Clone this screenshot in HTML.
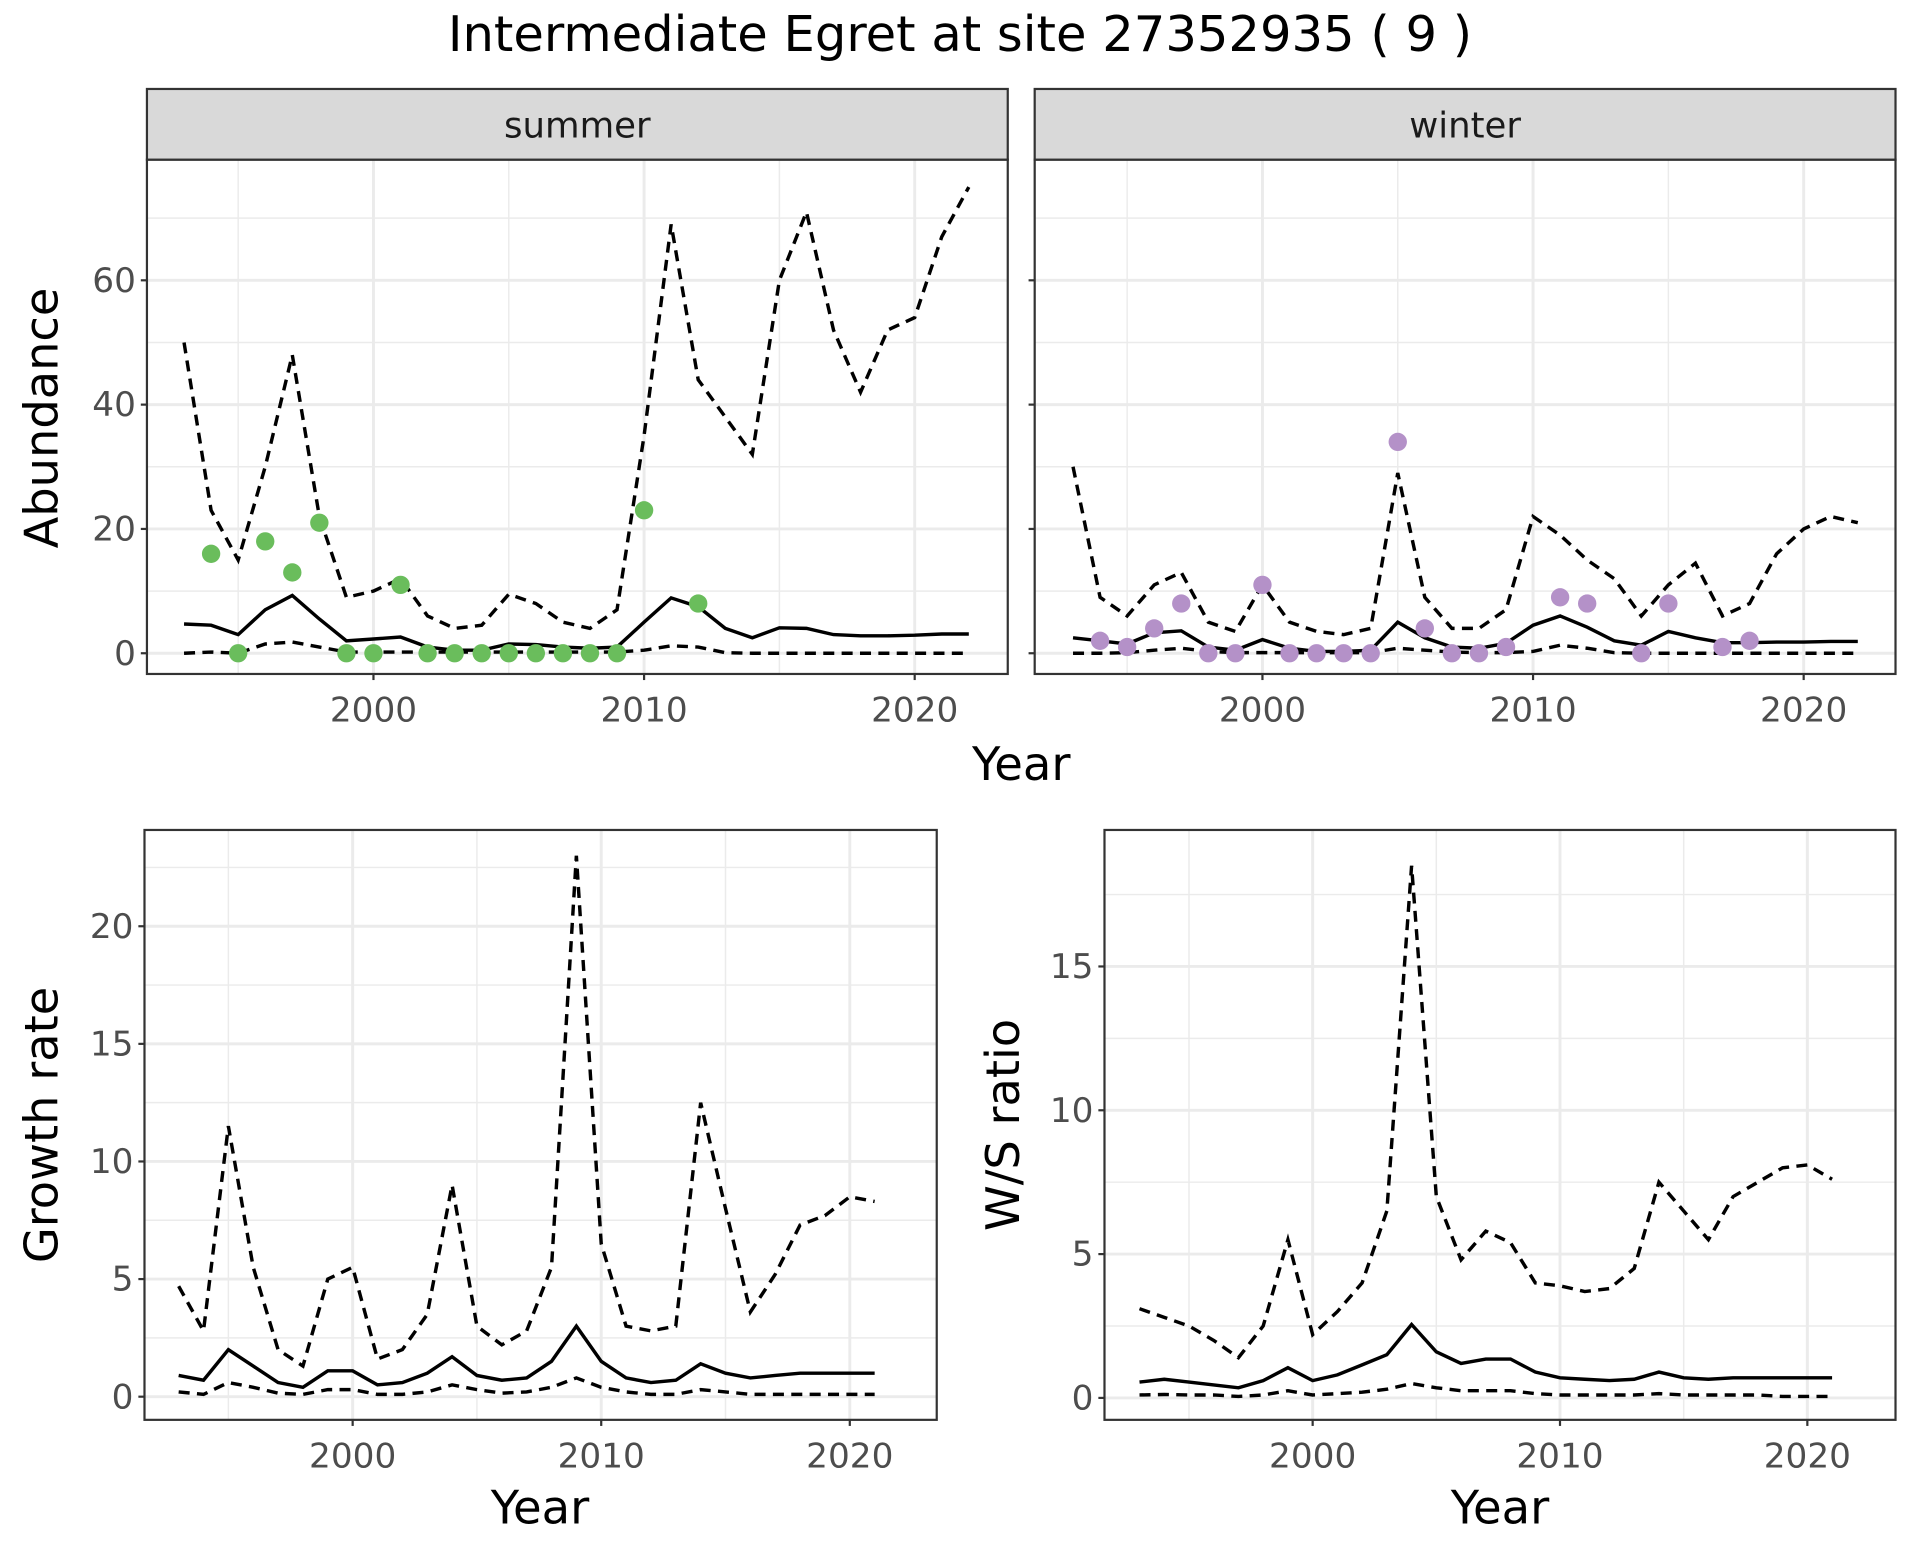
<!DOCTYPE html>
<html><head><meta charset="utf-8"><style>
html,body{margin:0;padding:0;background:#fff;}
svg{display:block;font-family:"DejaVu Sans","Liberation Sans",sans-serif;}
</style></head><body>
<svg id="chart" width="1920" height="1560" viewBox="0 0 1568 1280" preserveAspectRatio="none" xmlns="http://www.w3.org/2000/svg">
<text x="784" y="42" text-anchor="middle" font-size="40.5" fill="#000">Intermediate Egret at site 27352935 ( 9 )</text>
<text x="834" y="640" text-anchor="middle" font-size="38">Year</text>
<text transform="translate(47,343) rotate(-90)" text-anchor="middle" font-size="38">Abundance</text>
<text x="441" y="1250" text-anchor="middle" font-size="38">Year</text>
<text transform="translate(47,923) rotate(-90)" text-anchor="middle" font-size="38">Growth rate</text>
<text x="1225" y="1250" text-anchor="middle" font-size="38">Year</text>
<text transform="translate(832,923) rotate(-90)" text-anchor="middle" font-size="38">W/S ratio</text>
</svg>
<script>
const yearsA = [1993,1994,1995,1996,1997,1998,1999,2000,2001,2002,2003,2004,2005,2006,2007,2008,2009,2010,2011,2012,2013,2014,2015,2016,2017,2018,2019,2020,2021,2022];
const summerMean = [4.7,4.5,3,7,9.3,5.5,2,2.3,2.6,1,0.5,0.5,1.5,1.4,1,0.8,1,5,8.9,7.5,4,2.5,4.1,4,3,2.8,2.8,2.9,3.1,3.1];
const summerUpper = [50,23,15,30,48,22,9,10,12,6,4,4.5,9.5,8,5,4,7,35,69,44,38,32,60,71,52,42,52,54,67,75];
const summerLower = [0,0.2,0,1.5,1.8,1,0.2,0.2,0.2,0.2,0.2,0.2,0.2,0.2,0.2,0.2,0.2,0.5,1.2,1,0.1,0,0,0,0,0,0,0,0,0];
const summerObsYears = [1994,1995,1996,1997,1998,1999,2000,2001,2002,2003,2004,2005,2006,2007,2008,2009,2010,2012];
const summerObs = [16,0,18,13,21,0,0,11,0,0,0,0,0,0,0,0,23,8];
const winterMean = [2.5,2,1.5,3.3,3.6,1,0.5,2.2,0.8,0.3,0.3,0.5,5,2.5,1,0.8,1.6,4.5,6,4.2,2,1.3,3.5,2.5,1.7,1.7,1.8,1.8,1.9,1.9];
const winterUpper = [30,9,6,11,13,5,3.5,11,5,3.5,3,4,29,9,4,4,7,22,19,15,12,6,11,14.5,6,8,16,20,22,21];
const winterLower = [0,0,0.1,0.5,0.8,0.3,0.1,0.1,0.1,0.1,0.1,0.1,0.8,0.5,0.2,0.1,0.1,0.3,1.3,0.8,0.1,0,0,0,0,0,0,0,0,0];
const winterObsYears = [1994,1995,1996,1997,1998,1999,2000,2001,2002,2003,2004,2005,2006,2007,2008,2009,2011,2012,2014,2015,2017,2018];
const winterObs = [2,1,4,8,0,0,11,0,0,0,0,34,4,0,0,1,9,8,0,8,1,2];
const yearsB = [1993,1994,1995,1996,1997,1998,1999,2000,2001,2002,2003,2004,2005,2006,2007,2008,2009,2010,2011,2012,2013,2014,2015,2016,2017,2018,2019,2020,2021];
const growthUpper = [4.7,2.8,11.5,5.5,2,1.3,5,5.5,1.6,2,3.5,9,3,2.2,2.8,5.5,23,6.5,3,2.8,3,12.5,8,3.6,5.2,7.3,7.7,8.5,8.3];
const growthMean = [0.9,0.7,2,1.3,0.6,0.4,1.1,1.1,0.5,0.6,1,1.7,0.9,0.7,0.8,1.5,3,1.5,0.8,0.6,0.7,1.4,1,0.8,0.9,1,1,1,1];
const growthLower = [0.2,0.1,0.6,0.4,0.15,0.1,0.3,0.3,0.1,0.1,0.2,0.5,0.3,0.15,0.2,0.4,0.8,0.4,0.2,0.1,0.1,0.3,0.2,0.1,0.1,0.1,0.1,0.1,0.1];
const ratioUpper = [3.1,2.8,2.5,2,1.4,2.5,5.5,2.2,3,4,6.5,18.5,7,4.8,5.8,5.4,4,3.9,3.7,3.8,4.5,7.5,6.5,5.5,7,7.5,8,8.1,7.6];
const ratioMean = [0.55,0.65,0.55,0.45,0.35,0.6,1.05,0.6,0.8,1.15,1.5,2.55,1.6,1.2,1.35,1.35,0.9,0.7,0.65,0.6,0.65,0.9,0.7,0.65,0.7,0.7,0.7,0.7,0.7];
const ratioLower = [0.1,0.12,0.1,0.1,0.05,0.1,0.25,0.1,0.15,0.2,0.3,0.5,0.35,0.25,0.25,0.25,0.15,0.1,0.1,0.1,0.1,0.15,0.1,0.1,0.1,0.1,0.05,0.05,0.05];
const xTicks = [2000,2010,2020];
const xMinor = [1995,2005,2015];
const topYTicks = [0,20,40,60];
const topYMinor = [10,30,50,70];
const growthYTicks = [0,5,10,15,20];
const growthYMinor = [2.5,7.5,12.5,17.5,22.5];
const ratioYTicks = [0,5,10,15];
const ratioYMinor = [2.5,7.5,12.5,17.5];

const NS='http://www.w3.org/2000/svg';
const svg=document.getElementById('chart');
function mk(tag,attrs,parent){const e=document.createElementNS(NS,tag);for(const k in attrs)e.setAttribute(k,attrs[k]);(parent||svg).appendChild(e);return e;}

function panel(p){
  const g=mk('g',{});
  
  
  const sx=v=>p.x0+(v-p.xa)*(p.x1-p.x0)/(p.xb-p.xa);
  const sy=v=>p.y0+(v-p.ya)*(p.y1-p.y0)/(p.yb-p.ya);
  mk('rect',{x:p.L,y:p.T,width:p.R-p.L,height:p.B-p.T,fill:'#fff'},g);
  p.yMinor.forEach(v=>{const y=sy(v);if(y>p.T&&y<p.B){const l=mk('line',{x1:p.L,x2:p.R,y1:y,y2:y,stroke:'#ebebeb','stroke-width':1.2},g);}});
  xMinor.forEach(v=>{const x=sx(v);const l=mk('line',{x1:x,x2:x,y1:p.T,y2:p.B,stroke:'#ebebeb','stroke-width':1.2},g);});
  p.yTicks.forEach(v=>{const y=sy(v);const l=mk('line',{x1:p.L,x2:p.R,y1:y,y2:y,stroke:'#ebebeb','stroke-width':2.4},g);
    const tk=mk('line',{x1:p.L-5,x2:p.L,y1:y,y2:y,stroke:'#333','stroke-width':1.8},g);
    if(p.yLabels){const t=mk('text',{x:p.L-9,y:y+9.5,'text-anchor':'end','font-size':28,fill:'#4d4d4d'},g);t.textContent=v;}});
  xTicks.forEach(v=>{const x=sx(v);const l=mk('line',{x1:x,x2:x,y1:p.T,y2:p.B,stroke:'#ebebeb','stroke-width':2.4},g);
    const tk=mk('line',{x1:x,x2:x,y1:p.B,y2:p.B+5,stroke:'#333','stroke-width':1.8},g);
    const t=mk('text',{x:x,y:p.B+39,'text-anchor':'middle','font-size':28,fill:'#4d4d4d'},g);t.textContent=v;});
  const line=(ys,vals,dash,nm)=>{const d=vals.map((v,i)=>(i?'L':'M')+sx(ys[i]).toFixed(1)+','+sy(v).toFixed(1)).join('');
    const e=mk('path',{d:d,fill:'none',stroke:'#000','stroke-width':2.8,'stroke-dasharray':dash||'none'},g);};
  line(p.years,p.upper,'9,6','upper-bound-line');
  line(p.years,p.lower,'9,6','lower-bound-line');
  line(p.years,p.mean,null,'mean-line');
  if(p.obs){p.obs.forEach((v,i)=>{const c=mk('circle',{cx:sx(p.obsYears[i]),cy:sy(v),r:7.5,fill:p.color},g);});}
  mk('rect',{x:p.L,y:p.T,width:p.R-p.L,height:p.B-p.T,fill:'none',stroke:'#333','stroke-width':1.8},g);
  if(p.strip){const s=mk('rect',{x:p.L,y:73,width:p.R-p.L,height:p.T-73,fill:'#d9d9d9',stroke:'#333','stroke-width':1.8},g);
    const t=mk('text',{x:(p.L+p.R)/2,y:113,'text-anchor':'middle','font-size':29,fill:'#1a1a1a'},g);t.textContent=p.strip;}
}
panel({name:'summer-panel',L:120,R:823,T:131,B:553,x0:305,x1:526,xa:2000,xb:2010,y0:536,y1:230,ya:0,yb:60,yTicks:topYTicks,yMinor:topYMinor,yLabels:true,years:yearsA,mean:summerMean,upper:summerUpper,lower:summerLower,obs:summerObs,obsYears:summerObsYears,color:'#6abd5c',strip:'summer'});
panel({name:'winter-panel',L:845,R:1548,T:131,B:553,x0:1031,x1:1252,xa:2000,xb:2010,y0:536,y1:230,ya:0,yb:60,yTicks:topYTicks,yMinor:topYMinor,yLabels:false,years:yearsA,mean:winterMean,upper:winterUpper,lower:winterLower,obs:winterObs,obsYears:winterObsYears,color:'#b491c8',strip:'winter'});
panel({name:'growth-rate-panel',L:118,R:765,T:681,B:1165,x0:288,x1:491,xa:2000,xb:2010,y0:1146,y1:760,ya:0,yb:20,yTicks:growthYTicks,yMinor:growthYMinor,yLabels:true,years:yearsB,mean:growthMean,upper:growthUpper,lower:growthLower});
panel({name:'ws-ratio-panel',L:902,R:1548,T:681,B:1165,x0:1072,x1:1274,xa:2000,xb:2010,y0:1147,y1:793,ya:0,yb:15,yTicks:ratioYTicks,yMinor:ratioYMinor,yLabels:true,years:yearsB,mean:ratioMean,upper:ratioUpper,lower:ratioLower});
</script>
</body></html>
